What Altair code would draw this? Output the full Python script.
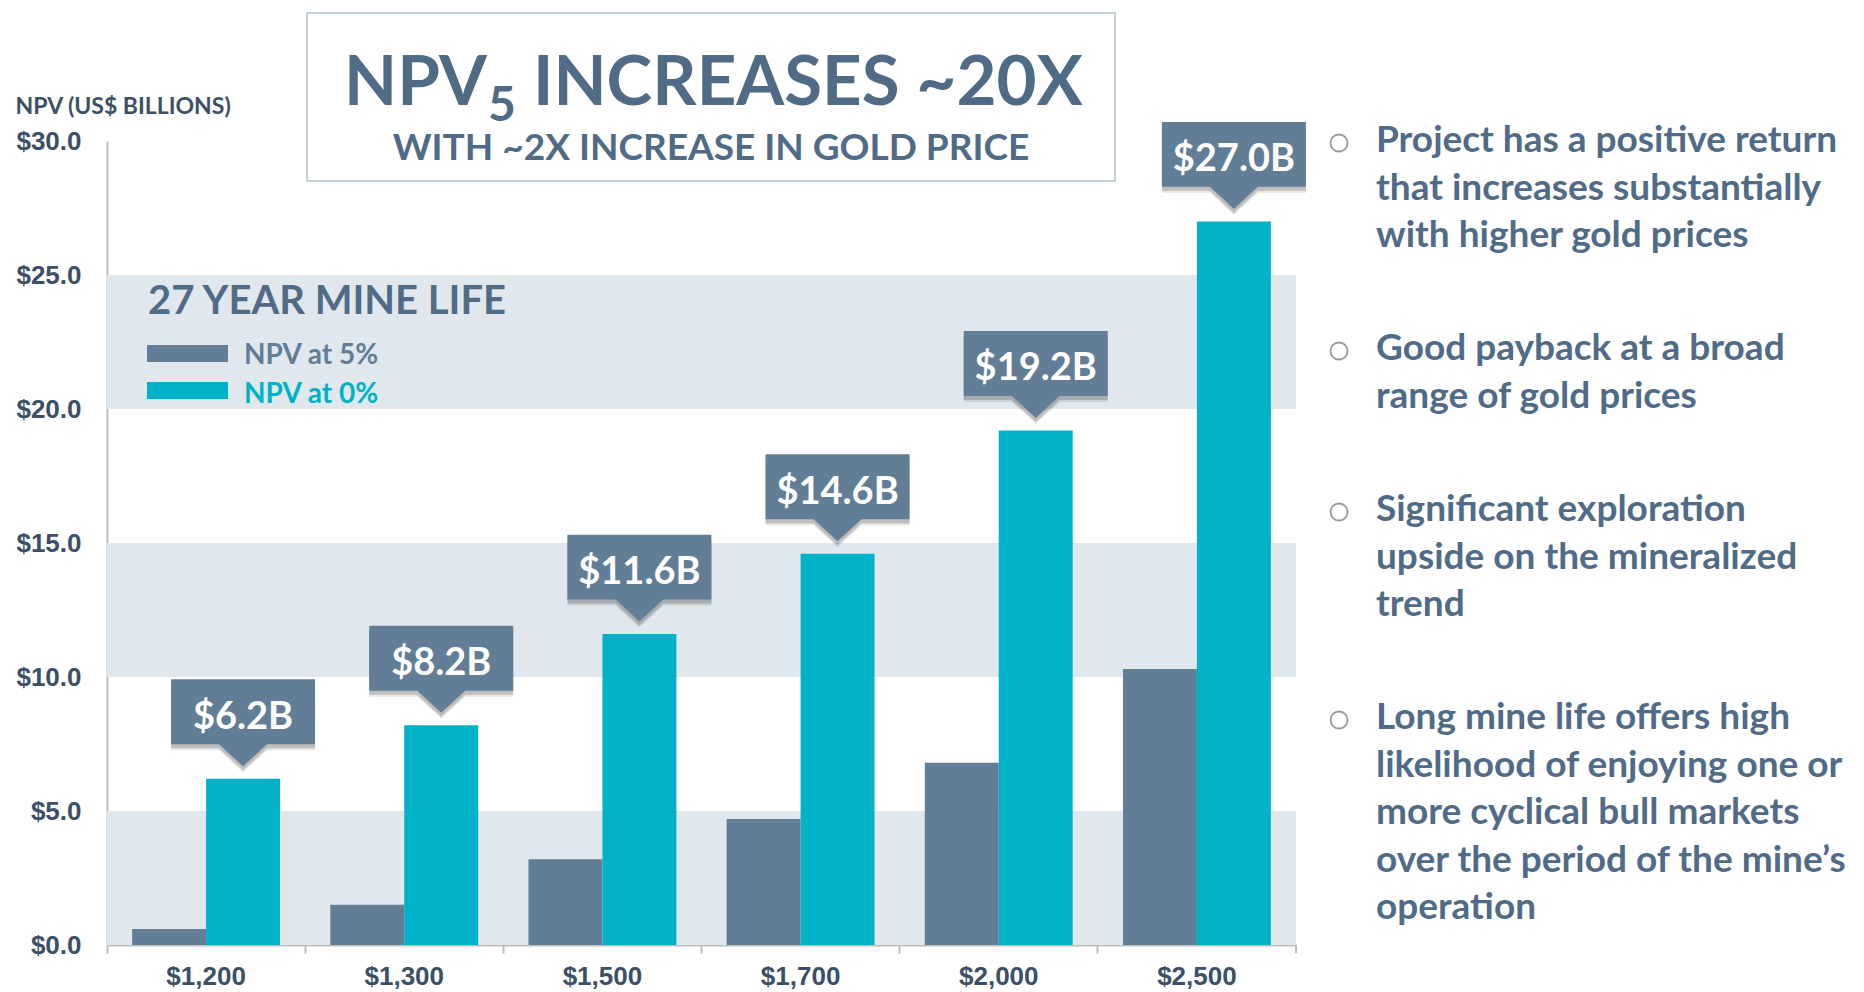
import altair as alt
import pandas as pd

# ---------------- data ----------------
prices = ["$1,200", "$1,300", "$1,500", "$1,700", "$2,000", "$2,500"]
npv_5 = [0.6, 1.5, 3.2, 4.7, 6.8, 10.3]
npv_0 = [6.2, 8.2, 11.6, 14.6, 19.2, 27.0]
series_names = ["NPV at 5%", "NPV at 0%"]
series_colors = ["#627E96", "#00B2C8"]
callout_labels = ["$6.2B", "$8.2B", "$11.6B", "$14.6B", "$19.2B", "$27.0B"]
band_starts = [0, 10, 20]
band_ends = [5, 15, 25]
y_ticks = [0, 5, 10, 15, 20, 25, 30]
y_title = "NPV (US$ BILLIONS)"
title_a = "NPV"
title_sub = "5"
title_b = "INCREASES ~20X"
subtitle = "WITH ~2X INCREASE IN GOLD PRICE"
legend_title = "27 YEAR MINE LIFE"
bullets = [
    ["Project has a positive return", "that increases substantially", "with higher gold prices"],
    ["Good payback at a broad", "range of gold prices"],
    ["Significant exploration", "upside on the mineralized", "trend"],
    ["Long mine life offers high", "likelihood of enjoying one or",
     "more cyclical bull markets", "over the period of the mine\u2019s", "operation"],
]
bullet_first_baselines = [11, 219, 380, 588]

# ---------------- style ----------------
W, H = 1189, 804
TEXT_DARK = "#3B5066"
TITLE_COL = "#506B85"
BULLET_COL = "#4F6B87"
BAND_COL = "#E0E7ED"
AXIS_COL = "#BDBDBD"
CALLOUT_COL = "#627E96"
FONT = "Lato"
NUM_FONT = "Liberation Sans"

bars_df = pd.DataFrame({
    "price": prices * 2,
    "series": [s for s in series_names for _ in prices],
    "value": npv_5 + npv_0,
})
callout_df = pd.DataFrame({
    "price": prices,
    "series": [series_names[1]] * len(prices),
    "value": npv_0,
    "label": callout_labels,
})
band_df = pd.DataFrame({"start": band_starts, "end": band_ends})
one = pd.DataFrame({"k": [0]})

x_enc = alt.X("price:N", sort=prices, scale=alt.Scale(paddingInner=0, paddingOuter=0),
              axis=alt.Axis(title=None, labelFont=NUM_FONT, labelFontWeight="bold",
                            labelFontSize=26, labelColor=TEXT_DARK, labelAngle=0,
                            labelPadding=10, tickSize=8, tickColor=AXIS_COL, tickWidth=2,
                            bandPosition=0, domainColor=AXIS_COL, domainWidth=2))
xoff_enc = alt.XOffset("series:N", sort=series_names,
                       scale=alt.Scale(paddingOuter=0.34, paddingInner=0))
y_scale = alt.Scale(domain=[0, 30], nice=False)
y_enc = alt.Y("value:Q", scale=y_scale,
              axis=alt.Axis(values=y_ticks, format="$.1f", grid=False, ticks=False,
                            labelFont=NUM_FONT, labelFontWeight="bold", labelFontSize=26,
                            labelColor=TEXT_DARK, labelPadding=26,
                            domainColor=AXIS_COL, domainWidth=2,
                            title=y_title, titleAngle=0, titleAlign="left",
                            titleBaseline="alphabetic", titleX=-92, titleY=-28,
                            titleFont=FONT, titleFontSize=23, titleFontWeight="bold",
                            titleColor=TEXT_DARK))

bands = alt.Chart(band_df).mark_rect(color=BAND_COL).encode(
    y=alt.Y("start:Q", scale=y_scale), y2="end:Q",
    x=alt.value(0), x2=alt.value(W))

bars = alt.Chart(bars_df).mark_bar().encode(
    x=x_enc, xOffset=xoff_enc, y=y_enc,
    color=alt.Color("series:N", scale=alt.Scale(domain=series_names, range=series_colors),
                    legend=None))

CALLOUT_PATH = "M-1,-0.451L1,-0.451L1,0.451L0.333,0.451L0,0.757L-0.333,0.451L-1,0.451Z"
CALLOUT_SIZE = 144 * 144
CY = -67

def callout_layer(fill, opacity, dx, dy):
    return alt.Chart(callout_df).mark_point(
        shape=CALLOUT_PATH, size=CALLOUT_SIZE, filled=True, fill=fill,
        fillOpacity=opacity, strokeWidth=0, xOffset=dx - 2, yOffset=CY + dy, opacity=1
    ).encode(x=alt.X("price:N", sort=prices), xOffset=alt.XOffset("series:N", sort=series_names),
             y=alt.Y("value:Q", scale=y_scale))

shadow1 = callout_layer("#000000", 0.10, 5, 6)
shadow2 = callout_layer("#000000", 0.17, 3, 4)
boxes = callout_layer(CALLOUT_COL, 1.0, 0, 0)
box_text = alt.Chart(callout_df).mark_text(
    font=FONT, fontWeight="bold", fontSize=38, color="white", align="center",
    baseline="alphabetic", yOffset=-50, xOffset=-3
).encode(x=alt.X("price:N", sort=prices), xOffset=alt.XOffset("series:N", sort=series_names),
         y=alt.Y("value:Q", scale=y_scale), text="label:N")

# extra end tick on the x axis
end_tick = alt.Chart(one).mark_rule(color=AXIS_COL, strokeWidth=2).encode(
    x=alt.value(W), y=alt.value(H), y2=alt.value(H + 8))

# title box
title_box = alt.Chart(one).mark_rect(fill="white", stroke="#C5D3DF", strokeWidth=2).encode(
    x=alt.value(200), x2=alt.value(1008), y=alt.value(-128), y2=alt.value(40))
t_a = alt.Chart(one).mark_text(text=title_a, font=FONT, fontWeight="bold", fontSize=69,
                               color=TITLE_COL, align="right", baseline="alphabetic").encode(
    x=alt.value(380), y=alt.value(-36))
t_sub = alt.Chart(one).mark_text(text=title_sub, font=FONT, fontWeight="bold", fontSize=48,
                                 color=TITLE_COL, align="left", baseline="alphabetic").encode(
    x=alt.value(381), y=alt.value(-20))
t_b = alt.Chart(one).mark_text(text=title_b, font=FONT, fontWeight="bold", fontSize=69,
                               color=TITLE_COL, align="left", baseline="alphabetic").encode(
    x=alt.value(426), y=alt.value(-36))
t_subtitle = alt.Chart(one).mark_text(text=subtitle, font=FONT, fontWeight="bold", fontSize=37,
                                      color=TITLE_COL, align="center", baseline="alphabetic").encode(
    x=alt.value(604), y=alt.value(19))

# legend
leg_layers = [alt.Chart(one).mark_text(text=legend_title, font=FONT, fontWeight="bold",
                                       fontSize=40, color=TITLE_COL, align="left",
                                       baseline="alphabetic").encode(
    x=alt.value(41), y=alt.value(173))]
sw_tops = [204, 241]
txt_base = [223, 262]
for i, (name, col) in enumerate(zip(series_names, series_colors)):
    leg_layers.append(alt.Chart(one).mark_rect(color=col).encode(
        x=alt.value(40), x2=alt.value(121), y=alt.value(sw_tops[i]), y2=alt.value(sw_tops[i] + 17)))
    leg_layers.append(alt.Chart(one).mark_text(text=name, font=FONT, fontWeight="bold",
                                               fontSize=28, color=col, align="left",
                                               baseline="alphabetic").encode(
        x=alt.value(137), y=alt.value(txt_base[i])))

# bullets
bullet_layers = []
for lines, yb in zip(bullets, bullet_first_baselines):
    bullet_layers.append(alt.Chart(one).mark_point(shape="circle", size=290, filled=False,
                                                   stroke="#6E6E6E", strokeWidth=1.8).encode(
        x=alt.value(1232), y=alt.value(yb - 9)))
    bullet_layers.append(alt.Chart(one).mark_text(text=lines, font=FONT, fontWeight="bold",
                                                  fontSize=37, color=BULLET_COL, align="left",
                                                  baseline="alphabetic", lineHeight=47.6).encode(
        x=alt.value(1269), y=alt.value(yb)))

chart = alt.layer(
    bands, bars, end_tick, shadow1, shadow2, boxes, box_text,
    title_box, t_a, t_sub, t_b, t_subtitle, *leg_layers, *bullet_layers
).resolve_scale(y="shared").properties(
    width=W, height=H,
    autosize=alt.AutoSizeParams(type="none"),
    padding={"left": 99, "top": 133, "right": 560, "bottom": 46},
    background="white",
).configure_view(stroke="transparent")

chart.save("out.html", embed_options={"renderer": "svg", "actions": False})
